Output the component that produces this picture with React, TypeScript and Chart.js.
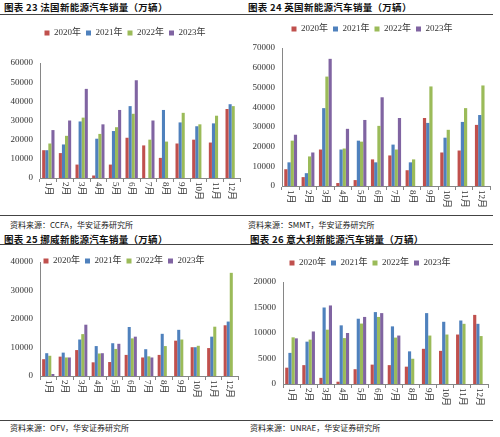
import React, { useEffect, useRef } from "react";
import { Chart, registerables } from "chart.js";

Chart.register(...registerables);

const months = ["1月", "2月", "3月", "4月", "5月", "6月", "7月", "8月", "9月", "10月", "11月", "12月"];
const years = ["2020年", "2021年", "2022年", "2023年"];
const colors = ["#C0504D", "#4F81BD", "#9BBB59", "#8064A2"];

// France (CCFA)
const fr2020 = [14500, 13000, 7000, 1300, 7000, 21000, 17000, 10500, 18000, 20000, 18500, 36000];
const fr2021 = [14500, 17500, 29500, 20500, 24500, 37500, null, 35500, 29000, 27000, 28500, 38500];
const fr2022 = [18000, 22000, 31500, 23000, 26500, 33500, 20000, 19000, 34000, 28000, 32500, 37500];
const fr2023 = [25000, 30000, 46500, 28000, 35500, 51000, 30000, null, null, null, null, null];

// UK (SMMT)
const uk2020 = [8500, 4500, 18500, 1500, 3000, 13500, 15500, 8000, 34500, 17000, 18000, 31000];
const uk2021 = [12000, 6500, 39500, 18500, 23000, 12000, 21000, 12000, 32000, 24500, 32500, 36000];
const uk2022 = [23000, 15000, 55500, 19000, 22500, 30500, 18500, 13500, 50500, 28500, 39500, 51000];
const uk2023 = [26000, 17000, 64500, 29000, 33500, 45000, 34500, null, null, null, null, null];

// Norway (OFV)
const no2020 = [5900, 6800, 9100, 4800, 4900, 7400, 6500, 7400, 12400, 10100, 9800, 17800];
const no2021 = [8000, 8200, 12800, 10500, 11500, 17200, 9400, 14800, 16200, 10100, 13800, 19100];
const no2022 = [7100, 6500, 14700, 7900, 9500, 13200, 6900, 10500, 12800, 10600, 17300, 36200];
const no2023 = [700, 6500, 18000, 8000, 11300, 13800, 6500, null, null, null, null, null];

// Italy (UNRAE)
const it2020 = [3200, 3700, 1200, 450, 2900, 3800, 3700, 3400, 6900, 6500, 9700, 13550];
const it2021 = [6100, 8300, 15000, 11500, 12800, 14100, 11300, 6400, 13900, 12200, 12450, 11800];
const it2022 = [9150, 8700, 10650, 9000, 11850, 13150, 9100, 4950, 9500, 9700, 11800, 9400];
const it2023 = [8950, 10300, 15400, 10000, 13150, 13900, 9500, null, null, null, null, null];

const SERIF = "'Liberation Serif', 'Noto Sans CJK SC', serif";
const CJK = "'Noto Sans CJK SC', sans-serif";
const AXIS = "#868686";
const TEXT = "#333333";

type Geo = {
  left: number; top: number; width: number; height: number;
  padL: number; padR: number; padT: number;
  yW: number; xH: number; legendH: number; legendDx: number;
};

const rotatedLabels = {
  id: "rotatedLabels",
  afterDraw(chart: any) {
    const xs = chart.scales.x;
    const ctx = chart.ctx;
    ctx.save();
    ctx.font = `9px ${SERIF}`;
    ctx.fillStyle = TEXT;
    ctx.textAlign = "left";
    ctx.textBaseline = "middle";
    const labels = chart.data.labels as string[];
    labels.forEach((lab, i) => {
      const x = xs.getPixelForTick(i);
      ctx.save();
      ctx.translate(x, xs.top + 4);
      ctx.rotate(Math.PI / 2);
      ctx.fillText(lab, 0, 0);
      ctx.restore();
    });
    ctx.restore();
  },
};

function legendFit(h: number, dx: number) {
  return {
    id: "legendFit",
    beforeLayout(chart: any) {
      const lg = chart.legend;
      if (lg && !lg._patched) {
        const orig = lg.fit;
        lg.fit = function () {
          orig.call(this);
          this.height = h;
        };
        lg._patched = true;
      }
    },
    afterLayout(chart: any) {
      const lg = chart.legend;
      if (!lg) return;
      lg.bottom = lg.top + 30;
      lg.height = 30;
      lg.left += dx;
      lg.right += dx;
    },
  };
}

function Panel(props: { geo: Geo; series: (number | null)[][]; yMax: number; yStep: number }) {
  const ref = useRef<HTMLCanvasElement>(null);
  const { geo, series, yMax, yStep } = props;
  useEffect(() => {
    if (!ref.current) return;
    const chart = new Chart(ref.current, {
      type: "bar",
      data: {
        labels: months,
        datasets: series.map((d, i) => ({
          label: years[i],
          data: d,
          backgroundColor: colors[i],
          borderWidth: 0,
          categoryPercentage: 0.74,
          barPercentage: 1,
        })),
      },
      options: {
        animation: false,
        responsive: false,
        maintainAspectRatio: false,
        devicePixelRatio: 1,
        layout: { padding: { left: geo.padL, right: geo.padR, top: geo.padT, bottom: 0 } },
        plugins: {
          legend: {
            display: true,
            position: "top",
            labels: {
              boxWidth: 5,
              boxHeight: 5,
              padding: 5,
              color: TEXT,
              font: { size: 9, family: SERIF },
            },
          },
          tooltip: { enabled: false },
        },
        scales: {
          x: {
            offset: true,
            grid: {
              display: true,
              offset: true,
              drawOnChartArea: false,
              drawTicks: true,
              tickLength: 4,
              color: AXIS,
            },
            border: { display: true, color: AXIS },
            ticks: { display: false },
            afterFit: (s: any) => { s.height = geo.xH; },
          },
          y: {
            min: 0,
            max: yMax,
            grid: { display: false, drawTicks: false, tickLength: 0 },
            border: { display: true, color: AXIS },
            ticks: {
              stepSize: yStep,
              padding: 7,
              color: TEXT,
              font: { size: 9, family: SERIF },
              callback: (v: any) => String(v),
            },
            afterFit: (s: any) => { s.width = geo.yW; },
          },
        },
      },
      plugins: [rotatedLabels, legendFit(geo.legendH, geo.legendDx)],
    } as any);
    return () => chart.destroy();
  }, []);
  return (
    <canvas
      ref={ref}
      width={geo.width}
      height={geo.height}
      style={{ position: "absolute", left: geo.left, top: geo.top, width: geo.width, height: geo.height }}
    />
  );
}

const titleStyle = (left: number, top: number): React.CSSProperties => ({
  position: "absolute", left, top, fontFamily: CJK, fontWeight: 700, fontSize: 9.5,
  lineHeight: "10px", color: "#111", whiteSpace: "nowrap", letterSpacing: 0.3,
});
const srcStyle = (left: number, top: number): React.CSSProperties => ({
  position: "absolute", left, top, fontFamily: CJK, fontSize: 8,
  lineHeight: "9px", color: "#222", whiteSpace: "nowrap",
});
const lineStyle = (top: number): React.CSSProperties => ({
  position: "absolute", left: 0, top, width: 493, height: 1, background: "#444",
});

export default function App() {
  return (
    <div style={{ position: "absolute", left: 0, top: 0, width: 500, height: 437, background: "#fff", overflow: "hidden" }}>
      <div style={titleStyle(4, 2)}>图表 23 法国新能源汽车销量（万辆）</div>
      <div style={titleStyle(248, 2)}>图表 24 英国新能源汽车销量（万辆）</div>
      <div style={lineStyle(14)} />
      <Panel
        geo={{ left: 0, top: 16, width: 245, height: 194, padL: 0, padR: 5, padT: 7.5, yW: 40, xH: 32, legendH: 39.5, legendDx: 5 }}
        series={[fr2020, fr2021, fr2022, fr2023]} yMax={60000} yStep={10000}
      />
      <Panel
        geo={{ left: 250, top: 16, width: 250, height: 194, padL: 0, padR: 10, padT: 3.5, yW: 32, xH: 24, legendH: 28.5, legendDx: 2 }}
        series={[uk2020, uk2021, uk2022, uk2023]} yMax={70000} yStep={10000}
      />
      <div style={lineStyle(215)} />
      <div style={srcStyle(10, 219.5)}>资料来源：CCFA，华安证券研究所</div>
      <div style={srcStyle(248, 219.5)}>资料来源：SMMT，华安证券研究所</div>
      <div style={titleStyle(4, 234)}>图表 25 挪威新能源汽车销量（万辆）</div>
      <div style={titleStyle(250, 234)}>图表 26 意大利新能源汽车销量（万辆）</div>
      <div style={lineStyle(244)} />
      <Panel
        geo={{ left: 0, top: 245, width: 245, height: 175, padL: 0, padR: 7, padT: 6.5, yW: 40, xH: 44, legendH: 10.5, legendDx: 5 }}
        series={[no2020, no2021, no2022, no2023]} yMax={40000} yStep={10000}
      />
      <Panel
        geo={{ left: 250, top: 245, width: 250, height: 175, padL: 0, padR: 12, padT: 8.5, yW: 33, xH: 36, legendH: 28.5, legendDx: 1 }}
        series={[it2020, it2021, it2022, it2023]} yMax={20000} yStep={5000}
      />
      <div style={lineStyle(420)} />
      <div style={srcStyle(10, 423)}>资料来源：OFV，华安证券研究所</div>
      <div style={srcStyle(250, 423)}>资料来源：UNRAE，华安证券研究所</div>
    </div>
  );
}
